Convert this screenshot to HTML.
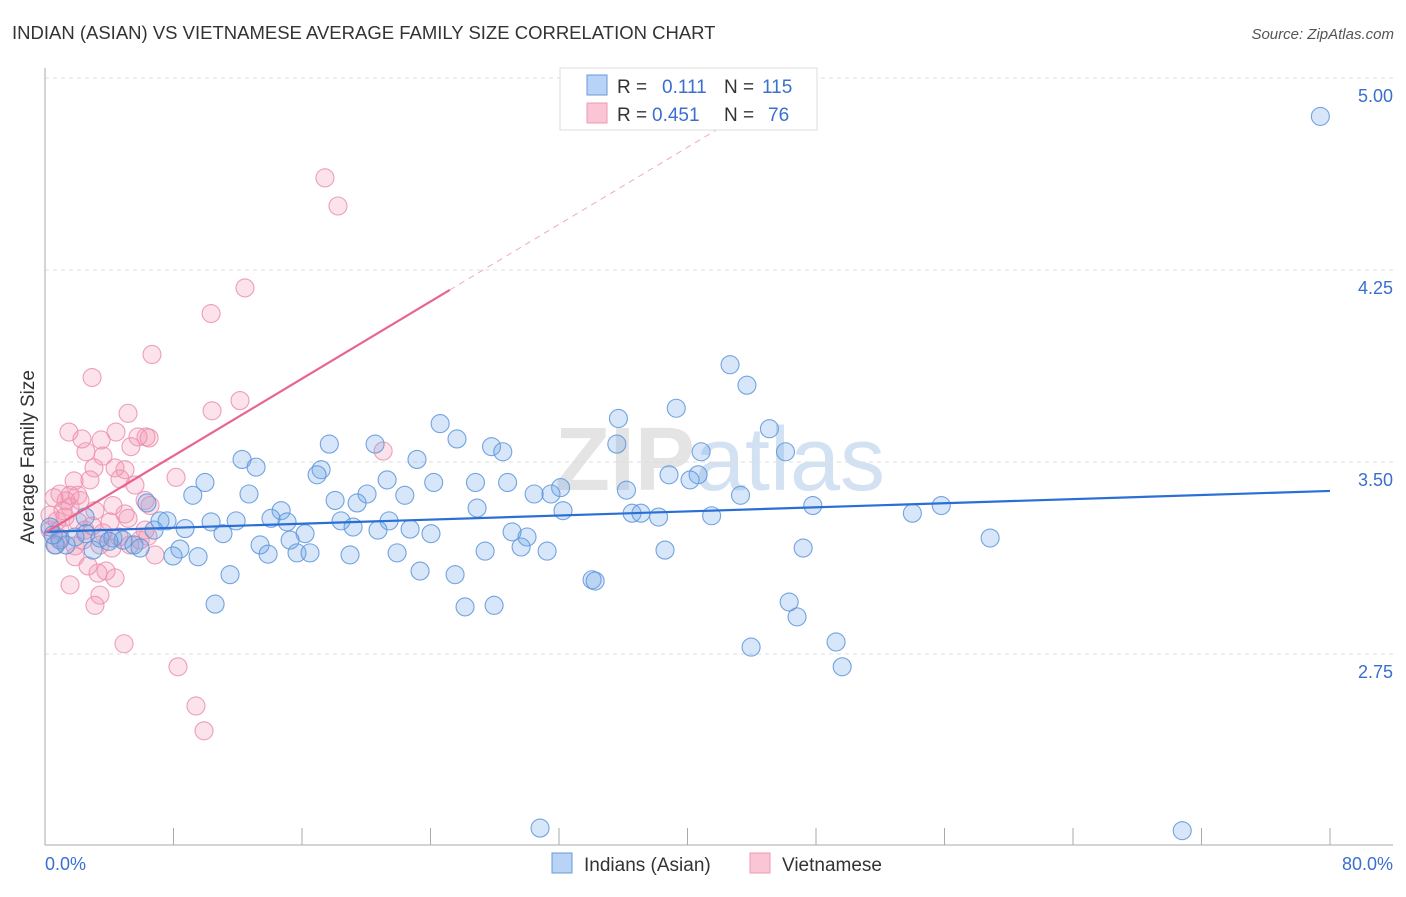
<!DOCTYPE html>
<html><head><meta charset="utf-8"><style>
body{margin:0;background:#fff;font-family:"Liberation Sans",sans-serif;}
svg text{font-family:"Liberation Sans",sans-serif;}
</style></head><body>
<svg id="chart" width="1406" height="892" viewBox="0 0 1406 892">
<text x="12" y="39" font-size="18.5" fill="#333">INDIAN (ASIAN) VS VIETNAMESE AVERAGE FAMILY SIZE CORRELATION CHART</text>
<text x="1394" y="39" font-size="15" fill="#555" font-style="italic" text-anchor="end">Source: ZipAtlas.com</text>
<text x="720" y="490" font-size="90" fill="#e4e4e4" text-anchor="middle" font-weight="bold">ZIP<tspan fill="#d3e2f3" font-weight="normal">atlas</tspan></text>
<g id="grid"></g>
<g id="axes"></g>
<g id="pink-pts"></g>
<g id="blue-pts"></g>
<g id="lines"></g>
<text transform="translate(34,457) rotate(-90)" font-size="19" fill="#333" text-anchor="middle">Average Family Size</text>
<text x="45" y="870" font-size="18" fill="#3a6fd0">0.0%</text>
<text x="1393" y="870" font-size="18" fill="#3a6fd0" text-anchor="end">80.0%</text>
<g>
<rect x="560" y="68" width="257" height="62" fill="#fff" stroke="#ddd"/>
<rect x="587" y="75" width="20" height="20" fill="#b8d3f5" stroke="#6a9ad8"/>
<rect x="587" y="103" width="20" height="20" fill="#fac6d6" stroke="#ec9ab4"/>
<text x="617" y="93" font-size="19" fill="#333">R =</text><text x="662" y="93" font-size="19" fill="#3a6fd0">0.111</text>
<text x="724" y="93" font-size="19" fill="#333">N =</text><text x="762" y="93" font-size="19" fill="#3a6fd0">115</text>
<text x="617" y="121" font-size="19" fill="#333">R =</text><text x="652" y="121" font-size="19" fill="#3a6fd0">0.451</text>
<text x="724" y="121" font-size="19" fill="#333">N =</text><text x="768" y="121" font-size="19" fill="#3a6fd0">76</text>
</g>
<g><rect x="552" y="853" width="20" height="20" fill="#b8d3f5" stroke="#6a9ad8"/><text x="584" y="871" font-size="19" fill="#333">Indians (Asian)</text></g>
<g><rect x="750" y="853" width="20" height="20" fill="#fac6d6" stroke="#ec9ab4"/><text x="782" y="871" font-size="19" fill="#333">Vietnamese</text></g>
</svg>
<script>
const yTicks=[2.75,3.50,4.25,5.00];
const yTickLabels=["2.75","3.50","4.25","5.00"];
const xTicks=[0,8,16,24,32,40,48,56,64,72,80];
const blueX=[79.4,42.65,43.7,39.3,35.7,24.6,45.1,25.65,17.7,20.55,27.8,28.5,35.6,46.1,40.85,12.27,13.14,23.16,17.19,16.94,38.85,40.66,40.16,9.96,21.3,24.2,26.8,28.8,32.1,36.2,31.5,30.45,12.7,9.2,22.4,20.05,18.06,19.43,6.35,14.7,26.9,32.25,43.3,47.8,55.8,54.0,36.55,37.1,38.2,41.5,2.5,7.16,7.6,10.34,11.9,14.07,15.07,18.43,21.42,19.18,20.73,8.72,6.79,11.08,16.19,24.03,29.08,30.01,22.73,2.55,3.42,4.23,4.86,5.54,5.92,3.98,8.4,13.39,15.26,29.64,31.26,27.4,38.6,47.2,58.84,15.69,16.5,13.89,9.53,7.97,18.99,21.92,2.99,1.31,0.62,0.93,11.52,23.35,25.53,34.06,34.25,10.59,26.15,27.96,46.33,46.82,49.25,43.96,49.63,30.82,70.8,1.87,0.31,0.5];
const blueY=[4.85,3.88,3.80,3.71,3.67,3.65,3.63,3.59,3.57,3.57,3.56,3.54,3.57,3.54,3.54,3.51,3.48,3.51,3.47,3.45,3.45,3.45,3.43,3.42,3.43,3.42,3.42,3.42,3.40,3.39,3.375,3.375,3.375,3.37,3.37,3.375,3.35,3.34,3.34,3.31,3.32,3.31,3.37,3.33,3.33,3.30,3.30,3.30,3.285,3.29,3.285,3.27,3.27,3.266,3.27,3.28,3.266,3.27,3.27,3.246,3.234,3.24,3.234,3.22,3.22,3.22,3.227,3.207,3.238,3.22,3.203,3.203,3.195,3.176,3.164,3.19,3.16,3.176,3.195,3.168,3.152,3.152,3.156,3.164,3.203,3.145,3.145,3.14,3.13,3.133,3.137,3.145,3.156,3.176,3.176,3.195,3.06,3.074,3.06,3.04,3.035,2.945,2.934,2.94,2.953,2.895,2.797,2.777,2.70,2.07,2.06,3.207,3.246,3.215];
const pinkX=[17.43,18.24,12.45,10.34,6.66,2.93,10.4,12.14,5.17,1.49,2.3,6.29,6.48,5.79,4.42,3.49,2.55,5.35,3.61,21.05,8.16,3.05,4.98,4.36,1.81,2.8,4.67,5.6,0.93,2.05,1.31,0.56,6.23,1.56,1.12,4.98,5.17,0.75,2.05,2.93,0.31,0.93,3.61,4.61,6.41,2.37,3.42,0.68,1.87,4.17,6.85,1.87,2.68,3.8,4.36,3.3,1.56,3.42,3.11,4.92,8.28,9.4,9.9,0.31,1.25,2.49,5.92,0.93,5.29,4.05,3.11,2.18,4.23,6.23,1.56,6.54];
const pinkY=[4.61,4.50,4.18,4.08,3.92,3.83,3.70,3.74,3.69,3.617,3.59,3.598,3.594,3.598,3.617,3.586,3.54,3.56,3.523,3.543,3.44,3.477,3.47,3.477,3.426,3.43,3.434,3.41,3.375,3.37,3.348,3.36,3.35,3.324,3.31,3.297,3.28,3.27,3.266,3.25,3.234,3.234,3.223,3.207,3.21,3.195,3.176,3.176,3.172,3.164,3.137,3.13,3.094,3.074,3.047,3.066,3.02,2.98,2.94,2.79,2.70,2.547,2.45,3.293,3.285,3.234,3.195,3.203,3.176,3.266,3.31,3.35,3.33,3.234,3.37,3.33];
const blueLine=[3.227,3.387];
const pinkLine=[3.223,4.172,25.2];
const NS="http://www.w3.org/2000/svg";
const X0=45,X1=1330,Y0=462,PXU=256;
function xs(v){return X0+v/80*(X1-X0);}
function ys(v){return Y0-(v-3.5)*PXU;}
function mk(tag,attrs,parent){const e=document.createElementNS(NS,tag);for(const k in attrs)e.setAttribute(k,attrs[k]);parent.appendChild(e);return e;}
const grid=document.getElementById('grid'),axes=document.getElementById('axes');
yTicks.forEach((t,i)=>{
 const l=mk('line',{x1:45,x2:1393,y1:ys(t),y2:ys(t),stroke:'#ddd','stroke-dasharray':'4,4'},grid);
 
 
 const tx=mk('text',{x:1393,y:ys(t)+24,'font-size':18,fill:'#3a6fd0','text-anchor':'end'},grid);
 tx.textContent=yTickLabels[i];
 
 
});
const ya=mk('line',{x1:45,x2:45,y1:68,y2:845,stroke:'#aaa'},axes);


const xa=mk('line',{x1:45,x2:1393,y1:845,y2:845,stroke:'#aaa'},axes);


xTicks.forEach(t=>{
 const l=mk('line',{x1:xs(t),x2:xs(t),y1:828,y2:845,stroke:'#aaa'},axes);
 
 
});
function pts(xa,ya,g,fill,stroke,name){
 xa.forEach((x,i)=>{
  const c=mk('circle',{cx:xs(x),cy:ys(ya[i]),r:9,fill:fill,stroke:stroke,'stroke-width':1.1},g);
  
  
 });
}
pts(pinkX,pinkY,document.getElementById('pink-pts'),'rgba(245,150,180,0.28)','rgba(235,143,174,0.85)','vietnamese-point');
pts(blueX,blueY,document.getElementById('blue-pts'),'rgba(110,165,230,0.28)','rgba(92,149,218,0.85)','indian-point');
const lg=document.getElementById('lines');
const bl=mk('line',{x1:xs(0),y1:ys(blueLine[0]),x2:xs(80),y2:ys(blueLine[1]),stroke:'#2a6fd6','stroke-width':2.2},lg);


const slope=(pinkLine[1]-pinkLine[0])/pinkLine[2];
const pl=mk('line',{x1:xs(0),y1:ys(pinkLine[0]),x2:xs(pinkLine[2]),y2:ys(pinkLine[1]),stroke:'#e8648e','stroke-width':2.2},lg);


const xe=47;
const pd=mk('line',{x1:xs(pinkLine[2]),y1:ys(pinkLine[1]),x2:xs(xe),y2:ys(pinkLine[0]+slope*xe),stroke:'#eeaabf','stroke-width':1,'stroke-dasharray':'6,5'},lg);


</script>
</body></html>
